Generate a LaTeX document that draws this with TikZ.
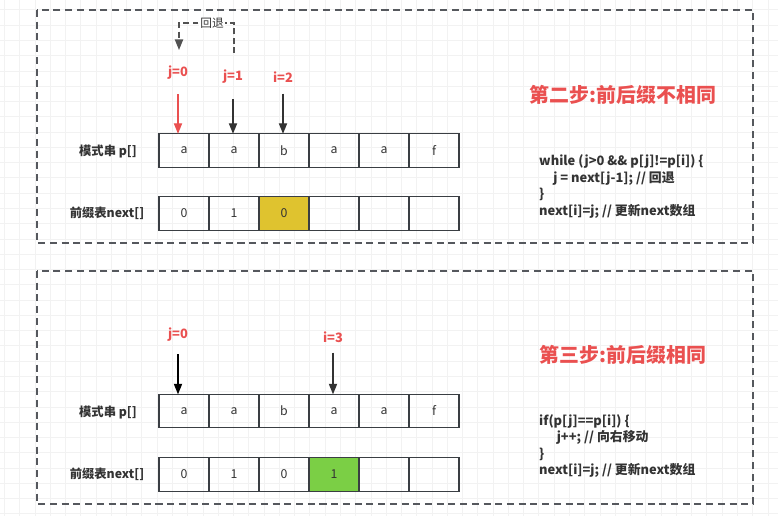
\documentclass[tikz,border=0pt]{standalone}
\usepackage{fontspec}
\setmainfont{Noto Sans CJK SC}
\usetikzlibrary{positioning,arrows.meta}
\definecolor{stepred}{HTML}{EA5050}
\definecolor{gridgray}{HTML}{F2F2F2}
\definecolor{panelgray}{HTML}{55585D}
\definecolor{celledge}{HTML}{3A3E43}
\definecolor{inkgray}{HTML}{333333}
\definecolor{hlyellow}{HTML}{DFC32F}
\definecolor{hlgreen}{HTML}{7BCF45}

\begin{document}
\begin{tikzpicture}[x=0.03cm,y=-0.03cm,
    cell/.style={draw=celledge,line width=1.1pt,minimum width=1.5cm,minimum height=1cm,
      inner sep=0pt,outer sep=0pt,text=inkgray,font=\fontsize{10.5}{12}\selectfont},
    rowlabel/.style={text=inkgray,font=\bfseries\fontsize{10.5}{12}\selectfont},
    ptrlabel/.style={inner sep=0pt,text=stepred,font=\bfseries\fontsize{11}{12}\selectfont},
    ptr/.style={draw=inkgray,line width=1.1pt,-{Triangle[length=9pt,width=7pt]}},
    redptr/.style={ptr,draw=stepred,fill=stepred},
    backptr/.style={draw=inkgray!85,line width=1.1pt,dash pattern=on 5pt off 3pt,-{Triangle[length=9pt,width=7pt]}},
    backlabel/.style={fill=white,inner sep=1pt,text=inkgray,font=\fontsize{10}{12}\selectfont},
    steptitle/.style={text=stepred,font=\bfseries\fontsize{17}{20}\selectfont},
    codetext/.style={anchor=west,align=left,inner sep=0pt,text=inkgray,font=\bfseries\fontsize{11}{14}\selectfont},
    panel/.style={draw=panelgray,line width=1.2pt,dash pattern=on 6pt off 4pt}]

    \useasboundingbox (0,0) rectangle (778,516);
    \fill[white] (0,0) rectangle (778,516);
    % faint grid
    \foreach \gx in {0,...,50}
        \draw[gridgray,line width=0.8pt] (4.5+15.27*\gx,0) -- (4.5+15.27*\gx,516);
    \foreach \gy in {1,...,34}
        \draw[gridgray,line width=0.8pt] (0,-5.3+15.27*\gy) -- (778,-5.3+15.27*\gy);

    \draw[panel] (37,10) rectangle (753,243);
    \draw[panel] (37,271) rectangle (753,504);

    % step 2
    \node[cell] (p0) at (184,150.5) {a};
    \foreach \c [count=\k] in {a,b,a,a,f} {
        \pgfmathtruncatemacro\prev{\k-1}
        \node[cell,right=0pt of p\prev] (p\k) {\c};
    }
    \node[cell] (n0) at (184,213.5) {0};
    \foreach \c [count=\k] in {1,0,,,} {
        \pgfmathtruncatemacro\prev{\k-1}
        \node[cell,right=0pt of n\prev] (n\k) {\c};
    }
    \node[cell,fill=hlyellow] at (n2) {0};
    \node[rowlabel] (plabel) at (108,151) {模式串 p[]};
    \node[rowlabel] (nlabel) at (107,213) {前缀表next[]};

    \node[ptrlabel] (ja) at (178,73) {j=0};
    \node[ptrlabel] (jb) at (233,77) {j=1};
    \node[ptrlabel] (ib) at (283,77) {i=2};
    \draw[redptr,shorten <=14*0.03cm] (ja) -- (ja |- p0.north);
    \draw[ptr,shorten <=15*0.03cm] (jb) -- (jb |- p1.north);
    \draw[ptr,shorten <=11*0.03cm] (ib) -- (ib |- p2.north);

    \coordinate (backfrom) at (234,53);
    \coordinate (backto) at (179,50);
    \draw[backptr] (backfrom) -- ++(0,-30) -| node[pos=0.2,backlabel] {回退} (backto);

    \node[steptitle] (title2) at (623,95) {第二步:前后缀不相同};
    \node[codetext] (code2) at (539,186.5) {while (j>0 \&\& p[j]!=p[i]) \{\\
        \hspace*{12pt}j = next[j-1]; // 回退\\
        \}\\
        next[i]=j; // 更新next数组};

    % step 3
    \node[cell] (q0) at (184,411) {a};
    \foreach \c [count=\k] in {a,b,a,a,f} {
        \pgfmathtruncatemacro\prev{\k-1}
        \node[cell,right=0pt of q\prev] (q\k) {\c};
    }
    \node[cell] (m0) at (184,474.5) {0};
    \foreach \c [count=\k] in {1,0,1,,} {
        \pgfmathtruncatemacro\prev{\k-1}
        \node[cell,right=0pt of m\prev] (m\k) {\c};
    }
    \node[cell,fill=hlgreen] at (m3) {1};
    \node[rowlabel] (qlabel) at (108,412) {模式串 p[]};
    \node[rowlabel] (mlabel) at (107,474) {前缀表next[]};

    \node[ptrlabel] (jc) at (178,335) {j=0};
    \node[ptrlabel] (ic) at (333,337) {i=3};
    \draw[ptr,draw=black,shorten <=12*0.03cm] (jc) -- (jc |- q0.north);
    \draw[ptr,shorten <=10*0.03cm] (ic) -- (ic |- q3.north);

    \node[steptitle] (title3) at (623,355) {第三步:前后缀相同};
    \node[codetext] (code3) at (539,446) {if(p[j]==p[i]) \{\\
        \hspace*{15pt}j++; // 向右移动\\
        \}\\
        next[i]=j; // 更新next数组};
\end{tikzpicture}
\end{document}
